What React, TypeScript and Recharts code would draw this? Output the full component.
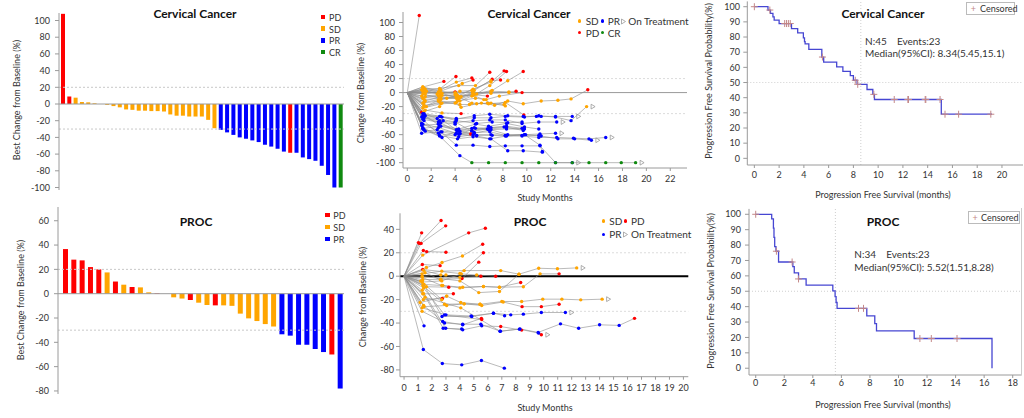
import React from 'react'
import {
  Bar,
  BarChart,
  Cell,
  ComposedChart,
  Line,
  LineChart,
  ReferenceLine,
  Scatter,
  XAxis,
  YAxis,
} from 'recharts'

const FONT = 'Lato, "Open Sans", sans-serif'
const COL: Record<string, string> = { D: '#ff0000', S: '#ffa500', P: '#0000ff', C: '#108a10' }
const AX = '#9a9a9a'
const TXT = '#333'

// ---- waterfall data (best change from baseline, %) ----
const CERV_BEST = [
  108, 9, 7.6, 2.4, 2, 0.8, 0, -1, -2.5, -4, -6.5, -7, -8, -8, -8.5, -8.5, -9, -12.5, -14, -14, -15, -15, -15,
  -19, -29, -31, -34, -37, -40, -41.6, -43.6, -45.6, -48.8, -51, -53.6, -57, -58.4, -58.4, -64, -66, -68, -74,
  -85, -100, -100,
]
const CERV_RESP = 'DDSSSSSSSSSSSSSSSSSSSSSSSPPPPPPPPPPPDPPPPPPPC'.split('')
const CERV_TICKS = [100, 80, 60, 40, 20, 0, -20, -40, -60, -80, -100]

const PROC_BEST = [
  36.7, 28, 27.4, 21.9, 20, 17.5, 10, 7.4, 5.5, 5.2, 1.1, 0.4, 0, -3, -4, -5.2, -7.4, -9.3, -9.6, -9.6, -10,
  -16.4, -20.3, -22.5, -25, -27, -33.4, -34.5, -42, -42, -45.5, -48, -50, -78,
]
const PROC_RESP = 'DDDDDSDSDSSDSSSDSSDSSSSSSSPPPPPPDP'.split('')
const PROC_TICKS = [60, 40, 20, 0, -20, -40, -60, -80]

// ---- spider data: [month, % change, status] per patient ----
type Pt = [number, number, string]
const CERV_PTS: Pt[][] = [
  [[1.0, 110, 'D']],
  [[1.3, 8, 'S'], [3.06, 16, 'D']],
  [[1.4, 6, 'S'], [2.7, 5, 'S'], [4.07, 23, 'D']],
  [[1.3, 2, 'S'], [2.8, 4, 'S'], [4.1, 15, 'S'], [5.4, 21, 'D']],
  [[1.5, -2, 'S'], [2.6, 1, 'S'], [4.6, 13, 'S'], [5.5, 18, 'D']],
  [[1.4, 3, 'S'], [2.7, 6, 'S'], [4.3, 10, 'S'], [5.7, 10, 'S'], [6.9, 29, 'D']],
  [[1.2, -5, 'S'], [2.8, -3, 'S'], [4.2, -5, 'S'], [5.5, 5, 'S'], [7.0, 15, 'S'], [8.1, 31, 'D']],
  [[1.5, 0, 'S'], [2.7, -1, 'S'], [4.4, 2, 'S'], [5.6, 3, 'S'], [7.1, 19, 'D']],
  [[1.3, -8, 'S'], [2.6, -5, 'S'], [4.0, -3, 'S'], [5.4, 3, 'S'], [7.0, 17, 'S'], [7.8, 18, 'D']],
  [[1.4, -10, 'S'], [2.8, -8, 'S'], [4.1, -8, 'S'], [5.5, -2, 'S'], [7.1, 3, 'S'], [8.4, 17, 'S'], [9.7, 30, 'D']],
  [[1.2, 4, 'S'], [2.5, -2, 'S'], [4.0, 1, 'D']],
  [[1.5, -6, 'S'], [2.9, -4, 'S'], [4.3, -6, 'S'], [5.8, -2, 'S'], [6.9, 10, 'S'], [8.3, 30, 'D']],
  [[1.5, -12, 'S'], [2.7, -6, 'S'], [4.3, -9, 'S'], [5.6, -3, 'S'], [6.7, -5, 'D']],
  [[1.3, -15, 'S'], [2.6, -12, 'S'], [4.1, -14, 'S'], [5.4, -5, 'S'], [7.0, 2, 'S'], [8.5, 1, 'S'], [9.1, 2, 'D']],
  [[1.4, -18, 'S'], [2.9, -15, 'S'], [4.2, -12, 'S'], [5.7, -8, 'S'], [6.6, -10, 'S'], [7.7, -5, 'S'], [9.6, 0, 'D']],
  [[1.6, -20, 'S'], [2.7, -13, 'S'], [4.4, -17, 'S'], [5.2, -17, 'S'], [6.2, -15, 'S'], [7.3, -18, 'S'], [8.4, -12, 'S'],
    [9.7, -16, 'S'], [11.2, -12, 'S'], [12.6, -11, 'S'], [13.7, -9, 'S'], [15.1, 4, 'D']],
  [[1.3, -22, 'S'], [2.8, -16, 'S'], [4.0, -15, 'S'], [4.5, -21, 'S'], [5.8, -16, 'S'], [6.7, -15, 'S'], [8.1, -17, 'S']],
  [[1.5, -25, 'S'], [2.9, -29, 'S'], [4.5, -30, 'D']],
  [[1.2, -28, 'D']],
  [[1.4, -14, 'S'], [2.6, -10, 'S'], [3.3, -8, 'S'], [4.2, -4, 'S'], [5.5, -4, 'S'], [6.4, -10, 'S'], [7.0, -15, 'S'], [8.2, -19, 'S']],
  [[1.6, 2, 'S'], [2.8, 0, 'S'], [4.1, -2, 'S'], [4.5, -6, 'S'], [5.5, -1, 'S'], [7.0, -1, 'S'], [8.5, 0, 'S']],
  [[1.3, -2, 'S'], [2.7, -8, 'S'], [4.4, -7, 'S'], [5.4, -15, 'S'], [6.8, -16, 'S'], [8.2, -14, 'S'], [9.75, -32, 'D']],
  [[1.4, -20, 'S'], [2.8, -10, 'S'], [4.1, -6, 'S'], [5.5, 0, 'S']],
  [[1.3, 8, 'S'], [2.7, 2, 'S'], [4.0, 0, 'S']],
  [[1.4, -27, 'S'], [2.7, -20, 'S']],
  [[1.5, 5, 'S'], [2.9, -1, 'S'], [4.2, -8, 'S'], [4.4, -12, 'S']],
  [[1.3, -33, 'P'], [2.9, -35, 'P'], [4.1, -38, 'P'], [5.6, -33, 'P'], [6.9, -31, 'P'], [8.4, -33, 'P'], [9.7, -34, 'P'],
    [10.8, -34, 'P'], [11.2, -34, 'P'], [12.4, -34, 'P'], [13.8, -34, 'P']],
  [[1.4, -36, 'P'], [2.7, -40, 'P'], [4.0, -43, 'P'], [5.5, -40, 'P'], [6.9, -39, 'P'], [8.2, -39, 'P'], [9.6, -44, 'P'],
    [11.0, -42, 'P'], [12.5, -42, 'P']],
  [[1.2, -47, 'P'], [2.6, -45, 'P'], [4.3, -52, 'P'], [5.7, -45, 'P'], [6.8, -48, 'P'], [8.3, -44, 'P'], [9.8, -49, 'P'], [11.0, -52, 'P']],
  [[1.3, -51, 'P'], [2.8, -48, 'P'], [4.4, -55, 'P'], [5.4, -54, 'P'], [6.9, -50, 'P'], [8.1, -49, 'P'], [9.7, -54, 'P']],
  [[1.5, -55, 'P'], [2.5, -53, 'P'], [4.1, -58, 'P'], [5.6, -58, 'P'], [7.0, -53, 'P'], [8.4, -60, 'P'], [9.9, -60, 'P'],
    [11.1, -59, 'P'], [12.4, -58, 'P']],
  [[1.2, -58, 'P'], [2.9, -56, 'P'], [4.0, -60, 'P'], [5.8, -61, 'P'], [7.1, -61, 'P'], [8.2, -62, 'P'], [9.6, -62, 'P'],
    [11.0, -64, 'P'], [12.5, -64, 'P'], [13.9, -65, 'P'], [15.2, -66, 'P'], [16.6, -64, 'P']],
  [[1.4, -40, 'P'], [2.7, -61, 'P'], [4.2, -66, 'P'], [5.5, -63, 'P'], [6.9, -66, 'P'], [8.3, -62, 'P'], [9.8, -60, 'P'],
    [11.2, -62, 'P'], [12.6, -66, 'P'], [14.0, -66, 'P'], [15.4, -68, 'P']],
  [[1.3, -45, 'P'], [2.8, -56, 'P'], [4.1, -75, 'P'], [5.5, -75, 'P'], [6.9, -77, 'P'], [8.2, -76, 'P'], [9.6, -76, 'P'],
    [11.1, -76, 'P'], [12.4, -100, 'P'], [13.8, -100, 'P']],
  [[1.3, -50, 'P'], [2.7, -62, 'P'], [4.4, -90, 'P'], [5.4, -100, 'C'], [6.8, -100, 'C'], [8.2, -100, 'C'], [9.6, -100, 'C'],
    [11.0, -100, 'C'], [12.4, -100, 'C'], [13.8, -100, 'C'], [15.2, -100, 'C'], [16.6, -100, 'C'], [17.9, -100, 'C'], [19.1, -100, 'C']],
  [[1.3, -35, 'P'], [2.5, -37, 'P'], [4.0, -42, 'P'], [5.4, -55, 'P'], [6.7, -52, 'P'], [8.3, -50, 'P'], [9.7, -52, 'P']],
  [[1.2, -44, 'P'], [2.6, -50, 'P'], [4.3, -59, 'P'], [5.8, -62, 'P'], [7.0, -66, 'P'], [8.4, -83, 'P'], [9.7, -83, 'P'], [11.3, -85, 'P']],
  [[1.3, -38, 'P'], [2.8, -43, 'P'], [4.4, -58, 'P'], [5.6, -57, 'P'], [6.9, -56, 'P'], [8.2, -61, 'P'], [9.6, -61, 'P'], [11.0, -61, 'P']],
  [[1.4, -32, 'P'], [2.7, -34, 'P'], [4.1, -40, 'P'], [5.8, -44, 'P'], [7.1, -42, 'P'], [8.4, -43, 'P'], [9.6, -42, 'P']],
  [[1.3, -30, 'P'], [3.0, -40, 'P'], [4.1, -53, 'P'], [5.4, -51, 'P'], [6.8, -53, 'P'], [8.3, -52, 'P'], [9.8, -52, 'P']],
  [[1.5, -33, 'P'], [2.7, -47, 'P'], [4.2, -53, 'P'], [5.3, -59, 'D']],
  [[1.4, -30, 'P'], [2.8, -34, 'P'], [4.1, -37, 'P'], [5.6, -36, 'P'], [7.0, -36, 'P'], [8.2, -34, 'P'], [9.8, -35, 'P'],
    [11.0, -33, 'P'], [12.4, -35, 'P'], [13.7, -40, 'P'], [15.0, -20, 'S']],
  [[1.3, -52, 'P'], [2.6, -58, 'P'], [4.3, -63, 'P'], [5.5, -60, 'P'], [7.0, -60, 'P'], [8.3, -61, 'P'], [9.8, -60, 'P'],
    [11.1, -75, 'P'], [11.3, -84, 'P']],
  [[1.4, -53, 'P'], [2.9, -64, 'P'], [4.2, -55, 'P'], [5.6, -50, 'P'], [6.8, -52, 'P']],
  [[1.2, -35, 'P'], [2.6, -42, 'P'], [4.0, -45, 'P'], [4.4, -59, 'P'], [5.7, -51, 'P'], [7.0, -50, 'P'], [8.3, -48, 'P'], [9.6, -51, 'P']],
]
const CERV_ON = [26, 27, 30, 31, 32, 33, 34, 41]

const PROC_PTS: Pt[][] = [
  [[1.26, 37, 'D']],
  [[1.03, 28.7, 'D']],
  [[1.1, 28, 'D'], [2.65, 47.5, 'D']],
  [[1.22, 28, 'D'], [2.98, 43, 'D']],
  [[1.38, 22, 'D'], [1.62, 21, 'D'], [3.0, 20.5, 'D']],
  [[1.34, 18, 'S'], [4.63, 37, 'D'], [5.82, 41, 'D']],
  [[1.6, 7.4, 'S'], [2.72, 11.7, 'S'], [4.18, 17.3, 'S'], [5.63, 27.3, 'D']],
  [[1.31, 10, 'D'], [2.58, 9, 'D']],
  [[1.34, 5.7, 'D'], [4.0, 2.3, 'S'], [5.68, 20, 'D']],
  [[1.29, 2, 'S'], [2.7, 4.3, 'S'], [4.3, 4.8, 'S'], [6.92, 4.8, 'S'], [8.23, 1.7, 'S'], [9.64, 6.8, 'S'], [10.98, 6.3, 'S'], [12.36, 7.1, 'S']],
  [[1.34, -3, 'S'], [2.63, -2.6, 'S'], [4.15, -2, 'D'], [5.35, 12, 'D']],
  [[1.43, -7, 'S'], [2.77, -8, 'S'], [4.0, -10, 'S'], [5.68, -8.8, 'S'], [6.83, -9.4, 'S'], [8.54, -9, 'S'], [9.74, 2, 'S'], [11.1, 2, 'D']],
  [[1.6, -9, 'S'], [3.2, -9.4, 'D']],
  [[1.34, -15, 'S'], [3.53, -15, 'D']],
  [[1.38, -20, 'S'], [2.74, -19, 'D']],
  [[1.15, -22.5, 'S'], [3.05, -17, 'S'], [4.06, -22.5, 'S'], [5.44, -24, 'S'], [7.0, -21.6, 'S'], [8.42, -21.6, 'S'],
    [9.93, -19.6, 'S'], [11.3, -19.6, 'S'], [12.65, -20.2, 'S'], [14.18, -19.6, 'S']],
  [[1.43, -26, 'S'], [3.05, -25, 'S'], [4.3, -23.6, 'S'], [5.56, -25, 'S'], [7.1, -22, 'S'], [8.45, -26, 'D'], [9.83, -26, 'D'], [11.1, -24, 'D']],
  [[1.29, -30, 'S'], [2.77, -38.7, 'P'], [4.2, -41.5, 'P'], [5.54, -36, 'D']],
  [[1.43, -42.4, 'P']],
  [[1.38, -62.6, 'P'], [2.74, -74.5, 'P'], [4.13, -75.7, 'P'], [5.54, -72, 'P'], [7.18, -78.5, 'P']],
  [[1.3, -5, 'S'], [2.72, -34.4, 'P'], [4.85, -34.4, 'P'], [6.4, -31.6, 'P'], [7.64, -33, 'P'], [8.54, -32.4, 'P'], [9.83, -31, 'P'], [11.55, -31, 'P']],
  [[1.4, -10, 'S'], [2.9, -33, 'P'], [5.56, -37, 'D']],
  [[1.3, -12, 'S'], [2.98, -44.4, 'P'], [4.2, -45.8, 'P'], [5.56, -42.4, 'P'], [6.92, -43, 'D'], [8.42, -46, 'D']],
  [[1.5, -18, 'S'], [4.06, -27, 'S'], [6.87, -47, 'P'], [8.26, -45.2, 'P'], [9.64, -48.6, 'P'], [9.83, -50, 'D']],
  [[1.4, -25, 'S'], [2.9, -40, 'P'], [4.2, -41, 'P'], [5.5, -41, 'P'], [6.9, -47, 'P'], [8.3, -45, 'P'], [9.6, -48, 'P'],
    [11.2, -40.7, 'P'], [12.5, -44.4, 'P'], [14.0, -41.5, 'P'], [15.4, -42, 'P'], [16.5, -36, 'D']],
  [[1.3, 0, 'S'], [4.0, -4, 'S'], [5.35, -14, 'S'], [6.83, -13, 'S'], [8.23, 1.7, 'S']],
  [[1.3, -1, 'S'], [2.7, -8, 'S'], [4.2, -9.4, 'S'], [5.68, -8.8, 'S'], [6.83, -9.4, 'S'], [8.35, -5.4, 'D']],
  [[1.4, 5, 'S'], [2.63, 1, 'S'], [4.0, -1, 'S'], [5.5, 0, 'D']],
  [[1.3, -5, 'S'], [2.7, -4, 'S'], [4.1, 2, 'S'], [5.2, 1, 'S'], [6.56, 0, 'D']],
  [[1.35, -8, 'S'], [2.9, -24, 'S'], [4.3, -23.6, 'S'], [5.44, -24, 'S']],
  [[1.2, -4, 'S'], [2.7, -20, 'S'], [3.05, -17, 'S']],
  [[1.4, -15, 'S'], [2.8, -44.4, 'P'], [4.13, -45, 'P']],
  [[1.29, -27, 'S'], [3.0, -33, 'P'], [4.8, -34, 'P'], [6.4, -31.6, 'P'], [7.2, -33.8, 'P']],
  [[1.5, 3, 'S'], [2.6, -3, 'S'], [3.0, 1, 'S']],
]
const PROC_ON = [9, 15, 20, 23]

// ---- Kaplan-Meier (step after) ----
const CERV_KM_T = [0, 1.1, 1.3, 1.5, 1.6, 2.0, 3.0, 3.5, 3.96, 4.05, 4.1, 4.4, 5.45, 5.6, 6.65, 7.15, 7.75, 8.0, 8.3, 9.1, 9.57, 9.7, 15.1, 19.2]
const CERV_KM_S = [100, 97.8, 95.6, 93.3, 91.1, 88.9, 85.6, 82.7, 79.5, 77, 75.5, 71.9, 66.8, 63.4, 60.3, 57.3, 54.5, 51.5, 48.8, 45.4, 42.2, 38.8, 29.1, 29.1]
const CERV_CENS = [0, 1.25, 2.45, 2.6, 2.75, 2.9, 5.5, 8.15, 8.35, 9.65, 11.3, 12.4, 12.45, 13.8, 13.85, 15.0, 15.4, 16.5, 19.1]

const PROC_KM_T = [0, 1.12, 1.24, 1.28, 1.33, 1.42, 1.6, 2.6, 2.7, 3.0, 3.53, 5.4, 5.56, 5.63, 5.7, 7.78, 8.34, 8.46, 11.1, 16.55]
const PROC_KM_S = [100, 97, 91, 85, 79, 76, 69, 66, 62, 58, 54, 50.3, 46.5, 42.7, 38.9, 34, 29, 24.2, 19.3, 0]
const PROC_CENS = [0, 1.45, 2.55, 3.0, 7.2, 7.55, 11.5, 12.3, 14.1]

const KM_Y = [0, 10, 20, 30, 40, 50, 60, 70, 80, 90, 100]

// ---------------------------------------------------------------
function Tx({ x, y, s = 9, b = false, a = 'm', r = false, children }: any) {
  const tr = r ? 'translate(-50%,-50%) rotate(-90deg)' : a === 'm' ? 'translate(-50%,-50%)' : 'translate(0,-50%)'
  return (
    <div
      style={{
        position: 'absolute', left: x, top: y, transform: tr, fontSize: s,
        fontWeight: b ? 700 : 400, color: b ? '#111' : TXT, whiteSpace: 'pre', lineHeight: 1,
      }}
    >
      {children}
    </div>
  )
}

const Sq = ({ x, y, c }: any) => (
  <div style={{ position: 'absolute', left: x - 2.2, top: y - 2.2, width: 4.5, height: 4.5, background: c }} />
)
const Dt = ({ x, y, c }: any) => (
  <div style={{ position: 'absolute', left: x - 1.8, top: y - 1.8, width: 3.6, height: 3.6, borderRadius: 2, background: c }} />
)
const Tri = ({ x, y }: any) => (
  <svg style={{ position: 'absolute', left: x - 3, top: y - 3 }} width={7} height={7}>
    <path d="M1.5,1 L5.5,3.5 L1.5,6 Z" fill="none" stroke="#999" strokeWidth={0.8} />
  </svg>
)

const tickStyle = { fontSize: 9, fill: TXT }

function Waterfall({ vals, resp, domain, ticks, h, mt, mb, yw, bar, pad, tm }: any) {
  const data = vals.map((v: number, i: number) => ({ i, v }))
  return (
    <BarChart width={345} height={h} data={data} margin={{ top: mt, right: 1, left: 0, bottom: mb }} barCategoryGap={0}>
      <XAxis dataKey="i" hide padding={{ left: pad, right: 0 }} />
      <YAxis
        domain={domain} ticks={ticks} width={yw} allowDataOverflow interval={0}
        tick={tickStyle} tickSize={4} tickMargin={tm}
        axisLine={{ stroke: AX }} tickLine={{ stroke: AX }}
      />
      <ReferenceLine y={20} stroke="#c8c8c8" strokeDasharray="2 2" />
      <ReferenceLine y={-30} stroke="#c8c8c8" strokeDasharray="2 2" />
      <ReferenceLine y={0} stroke={AX} />
      <Bar dataKey="v" barSize={bar} isAnimationActive={false}>
        {vals.map((_: number, i: number) => (
          <Cell key={i} fill={COL[resp[i]]} />
        ))}
      </Bar>
    </BarChart>
  )
}

const spiderDot = (p: any) => {
  const { cx, cy, payload, index } = p
  if (!payload.s) return <g key={index} />
  return (
    <g key={index}>
      <circle cx={cx} cy={cy} r={1.7} fill={COL[payload.s]} />
      {payload.t && (
        <path d={`M${cx + 4.5},${cy - 2.4} L${cx + 8.5},${cy} L${cx + 4.5},${cy + 2.4} Z`} fill="none" stroke="#999" strokeWidth={0.8} />
      )}
    </g>
  )
}

function Spider({ pts, on, w, h, margin, xd, xt, yd, yt, yw, xh, zero, ytm }: any) {
  return (
    <LineChart width={w} height={h} margin={margin}>
      <XAxis
        type="number" dataKey="m" domain={xd} ticks={xt} allowDataOverflow height={xh} interval={0}
        tick={tickStyle} tickSize={3} tickMargin={5} axisLine={{ stroke: AX }} tickLine={{ stroke: AX }}
      />
      <YAxis
        type="number" domain={yd} ticks={yt} allowDataOverflow width={yw} interval={0}
        tick={tickStyle} tickSize={4} tickMargin={ytm} axisLine={{ stroke: AX }} tickLine={{ stroke: AX }}
      />
      <ReferenceLine y={20} stroke="#dcdcdc" strokeDasharray="2 2" />
      <ReferenceLine y={-30} stroke="#dcdcdc" strokeDasharray="2 2" />
      <ReferenceLine y={0} stroke={zero.c} strokeWidth={zero.w} />
      {pts.map((p: Pt[], k: number) => {
        const data = [{ m: 0, v: 0, s: '' }, ...p.map(([m, v, s], j) => ({ m, v, s, t: on.includes(k) && j === p.length - 1 }))]
        return (
          <Line
            key={k} data={data} dataKey="v" stroke="#8c8c8c" strokeWidth={0.6}
            dot={spiderDot} activeDot={false} isAnimationActive={false}
          />
        )
      })}
    </LineChart>
  )
}

const plus = (p: any) => (
  <path d={`M${p.cx - 3.5},${p.cy}h7M${p.cx},${p.cy - 3.5}v7`} stroke="#c48888" strokeWidth={1} fill="none" />
)

function KM({ T, S, cens, med, w, h, margin, xd, xt, xh, yw, ytm, xtm }: any) {
  const km = T.map((t: number, i: number) => ({ t, s: S[i] }))
  const at = (t: number) => {
    let s = S[0]
    T.forEach((tt: number, i: number) => { if (tt <= t) s = S[i] })
    return s
  }
  const cdata = cens.map((t: number) => ({ t, s: at(t) }))
  return (
    <ComposedChart width={w} height={h} margin={margin}>
      <XAxis
        type="number" dataKey="t" domain={xd} ticks={xt} allowDataOverflow height={xh} interval={0}
        tick={tickStyle} tickSize={3} tickMargin={xtm} axisLine={{ stroke: AX }} tickLine={{ stroke: AX }}
      />
      <YAxis
        type="number" dataKey="s" domain={[-4.4, 103.5]} ticks={KM_Y} allowDataOverflow width={yw} interval={0}
        tick={tickStyle} tickSize={4} tickMargin={ytm} axisLine={{ stroke: AX }} tickLine={{ stroke: AX }}
      />
      <ReferenceLine y={50} stroke="#cfcfcf" strokeDasharray="1 2" />
      <ReferenceLine x={med} stroke="#cfcfcf" strokeDasharray="1 2" />
      <Line data={km} dataKey="s" type="stepAfter" stroke="#4646d2" strokeWidth={1.3} dot={false} activeDot={false} isAnimationActive={false} />
      <Scatter data={cdata} dataKey="s" shape={plus} isAnimationActive={false} />
    </ComposedChart>
  )
}

export default function App() {
  return (
    <div style={{ position: 'absolute', left: 0, top: 0, width: 1024, height: 418, background: '#fff', overflow: 'hidden', fontFamily: FONT }}>
      {/* waterfall cervical */}
      <div style={{ position: 'absolute', left: 0, top: 0 }}>
        <Waterfall vals={CERV_BEST} resp={CERV_RESP} domain={[-103, 109]} ticks={CERV_TICKS} h={200} mt={13} mb={10} yw={59} bar={4} pad={1} tm={5} />
      </div>
      {/* waterfall PROC */}
      <div style={{ position: 'absolute', left: 0, top: 200 }}>
        <Waterfall vals={PROC_BEST} resp={PROC_RESP} domain={[-82.5, 71.3]} ticks={PROC_TICKS} h={218} mt={7} mb={24} yw={58} bar={5} pad={3} tm={5} />
      </div>
      {/* spider cervical */}
      <div style={{ position: 'absolute', left: 340, top: 0 }}>
        <Spider
          pts={CERV_PTS} on={CERV_ON} w={350} h={205} margin={{ top: 12, right: 3, left: 0, bottom: 0 }}
          xd={[-0.36, 23.4]} xt={[0, 2, 4, 6, 8, 10, 12, 14, 16, 18, 20, 22]} xh={37}
          yd={[-107.6, 115]} yt={CERV_TICKS} yw={63} ytm={4} zero={{ c: '#999', w: 1 }}
        />
      </div>
      {/* spider PROC */}
      <div style={{ position: 'absolute', left: 340, top: 200 }}>
        <Spider
          pts={PROC_PTS} on={PROC_ON} w={350} h={218} margin={{ top: 13.3, right: 1.7, left: 0, bottom: 0 }}
          xd={[-0.29, 20.35]} xt={[0, 1, 2, 3, 4, 5, 6, 7, 8, 9, 10, 11, 12, 13, 14, 15, 16, 17, 18, 19, 20]} xh={41.3}
          yd={[-85.8, 53.7]} yt={[40, 20, 0, -20, -40, -60, -80]} yw={60} ytm={2} zero={{ c: '#000', w: 2 }}
        />
      </div>
      {/* KM cervical */}
      <div style={{ position: 'absolute', left: 690, top: 0 }}>
        <KM
          T={CERV_KM_T} S={CERV_KM_S} cens={CERV_CENS} med={8.6} w={334} h={205}
          margin={{ top: 1.4, right: 1, left: 0, bottom: 0 }} xd={[-0.57, 21.7]} xt={[0, 2, 4, 6, 8, 10, 12, 14, 16, 18, 20]}
          xh={40} yw={57.3} ytm={3.3} xtm={4}
        />
      </div>
      {/* KM PROC */}
      <div style={{ position: 'absolute', left: 690, top: 200 }}>
        <KM
          T={PROC_KM_T} S={PROC_KM_S} cens={PROC_CENS} med={5.58} w={334} h={218}
          margin={{ top: 8.9, right: 2.3, left: 0, bottom: 0 }} xd={[-0.47, 18.63]} xt={[0, 2, 4, 6, 8, 10, 12, 14, 16, 18]}
          xh={43} yw={59} ytm={4} xtm={2}
        />
      </div>
      <div style={{ position: 'absolute', left: 1021, top: 208, width: 1, height: 167, background: '#ccc' }} />

      {/* titles */}
      <Tx x={195} y={14} s={12} b>Cervical Cancer</Tx>
      <Tx x={196} y={222} s={12} b>PROC</Tx>
      <Tx x={529} y={14} s={12} b>Cervical Cancer</Tx>
      <Tx x={530} y={222} s={12} b>PROC</Tx>
      <Tx x={883} y={14} s={12} b>Cervical Cancer</Tx>
      <Tx x={883} y={222} s={12} b>PROC</Tx>

      {/* axis labels */}
      <Tx x={16} y={100} r>Best Change from Baseline (%)</Tx>
      <Tx x={20} y={300} r>Best Change from Baseline (%)</Tx>
      <Tx x={360} y={93} r>Change from Baseline (%)</Tx>
      <Tx x={362} y={297} r>Change from Baseline (%)</Tx>
      <Tx x={545} y={197}>Study Months</Tx>
      <Tx x={545} y={407}>Study Months</Tx>
      <Tx x={708} y={81} r>Progression Free Survival Probability(%)</Tx>
      <Tx x={710} y={291} r>Progression Free Survival Probability(%)</Tx>
      <Tx x={883} y={194}>Progression Free Survival (months)</Tx>
      <Tx x={883} y={404}>Progression Free Survival (months)</Tx>

      {/* waterfall legends */}
      {['PD', 'SD', 'PR', 'CR'].map((l, i) => (
        <React.Fragment key={l}>
          <Sq x={323} y={16.7 + i * 11.8} c={COL[['D', 'S', 'P', 'C'][i]]} />
          <Tx x={329} y={16.7 + i * 11.8} a="s">{l}</Tx>
        </React.Fragment>
      ))}
      {['PD', 'SD', 'PR'].map((l, i) => (
        <React.Fragment key={l}>
          <Sq x={327.3} y={215 + i * 11.9} c={COL[['D', 'S', 'P'][i]]} />
          <Tx x={333.3} y={215 + i * 11.9} a="s">{l}</Tx>
        </React.Fragment>
      ))}

      {/* spider legends */}
      <Dt x={579.3} y={21} c={COL.S} />
      <Tx x={585.7} y={21} a="s" s={10}>SD</Tx>
      <Dt x={602.7} y={21} c={COL.P} />
      <Tx x={607.7} y={21} a="s" s={10}>PR</Tx>
      <Tri x={622.7} y={21} />
      <Tx x={628.3} y={21} a="s" s={10}>On Treatment</Tx>
      <Dt x={579.3} y={32.7} c={COL.D} />
      <Tx x={585.7} y={32.7} a="s" s={10}>PD</Tx>
      <Dt x={602.7} y={32.7} c={COL.C} />
      <Tx x={607.7} y={32.7} a="s" s={10}>CR</Tx>

      <Dt x={603.3} y={221} c={COL.S} />
      <Tx x={609.3} y={221} a="s" s={10}>SD</Tx>
      <Dt x={625.3} y={221} c={COL.D} />
      <Tx x={631} y={221} a="s" s={10}>PD</Tx>
      <Dt x={603.3} y={234.3} c={COL.P} />
      <Tx x={609.3} y={234.3} a="s" s={10}>PR</Tx>
      <Tri x={625.3} y={234.3} />
      <Tx x={631} y={234.3} a="s" s={10}>On Treatment</Tx>

      {/* KM legends and stats */}
      <div style={{ position: 'absolute', left: 966, top: 1.7, width: 49, height: 13, border: '1px solid #bbb', boxSizing: 'border-box' }} />
      <Tx x={973.3} y={7.8} c="#c48888"><span style={{ color: '#c48888' }}>+</span></Tx>
      <Tx x={980} y={8.2} a="s">Censored</Tx>
      <div style={{ position: 'absolute', left: 968.3, top: 210.7, width: 52, height: 13, border: '1px solid #bbb', boxSizing: 'border-box' }} />
      <Tx x={975} y={216.7}><span style={{ color: '#c48888' }}>+</span></Tx>
      <Tx x={981} y={217} a="s">Censored</Tx>

      <Tx x={865} y={41} a="s" s={10}>{'N:45    Events:23'}</Tx>
      <Tx x={865} y={53} a="s" s={10}>Median(95%CI): 8.34(5.45,15.1)</Tx>
      <Tx x={854.3} y={254.3} a="s" s={10}>{'N:34    Events:23'}</Tx>
      <Tx x={854.3} y={267} a="s" s={10}>Median(95%CI): 5.52(1.51,8.28)</Tx>
    </div>
  )
}
